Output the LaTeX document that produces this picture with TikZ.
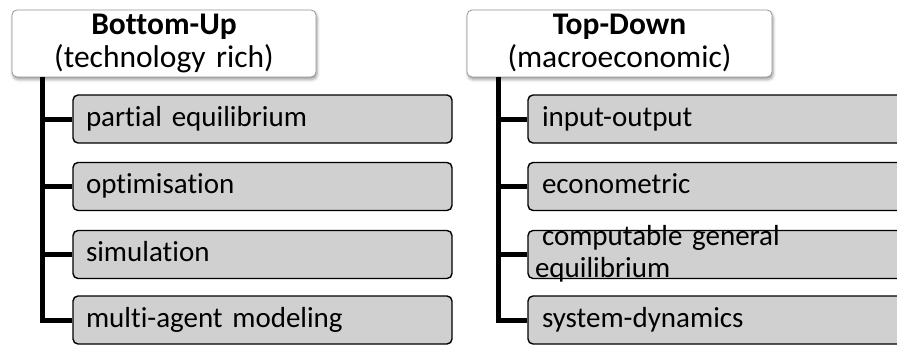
\documentclass[tikz,border=0pt]{standalone}
\usepackage{fontspec}
\setmainfont{Carlito}[Ligatures=NoCommon]
\usetikzlibrary{shadows.blur}

\definecolor{itemfill}{RGB}{208,208,208}
\definecolor{headline}{RGB}{150,150,150}

\tikzset{
  header/.style={draw=headline, line width=0.8pt, fill=white, rounded corners=5pt,
    minimum width=304pt, minimum height=67pt, inner sep=0pt,
    text width=300pt, align=center, text height=23pt, text depth=40pt,
    font=\fontsize{31.5}{33}\selectfont,
    blur shadow={shadow xshift=1pt, shadow yshift=-2.5pt, shadow blur radius=3pt, shadow opacity=40}},
  item/.style={draw=black, line width=1.4pt, fill=itemfill, rounded corners=5pt,
    minimum height=48pt, inner ysep=0pt, inner xsep=0pt, align=left,
    text height=20pt, text depth=6pt,
    font=\fontsize{29}{32}\selectfont},
  leftitem/.style={item, minimum width=379pt, text width=353pt},
  rightitem/.style={item, minimum width=412pt, text width=384pt},
  trunk/.style={draw=black, line width=5pt, line join=miter}
}

\begin{document}
\begin{tikzpicture}[x=1pt, y=-1pt]
  \useasboundingbox (0,0) rectangle (897,345);
  \clip (0,0) rectangle (897,345);

  % column headers
  \node[header] (bu) at (164,43.5) {\textbf{Bottom-Up}\\(technology rich)};
  \node[header, minimum width=305pt] (td) at (619.5,43.5) {\textbf{Top-Down}\\(macroeconomic)};

  % bottom-up model families
  \node[leftitem] (pe)  at (262.5,119)   {partial equilibrium};
  \node[leftitem] (opt) at (262.5,186.5) {optimisation};
  \node[leftitem] (sim) at (262.5,254.5) {simulation};
  \node[leftitem] (mam) at (262.5,320)   {multi-agent modeling};

  % top-down model families
  \node[rightitem] (io)  at (734,119)   {input-output};
  \node[rightitem] (eco) at (734,186.5) {econometric};
  \node[rightitem, text width=398pt, text height=5pt, text depth=24pt] (cge) at (734,254.5)
    {\hspace*{7pt}computable general\\equilibrium};
  \node[rightitem] (sd)  at (734,320)   {system-dynamics};

  % tree connectors
  \coordinate (bt) at ([xshift=31pt]bu.south west);
  \coordinate (tt) at ([xshift=31.5pt]td.south west);
  \foreach \n in {pe,opt,sim,mam} \draw[trunk] (bt) |- (\n.west);
  \foreach \n in {io,eco,cge,sd} \draw[trunk] (tt) |- (\n.west);
\end{tikzpicture}
\end{document}
